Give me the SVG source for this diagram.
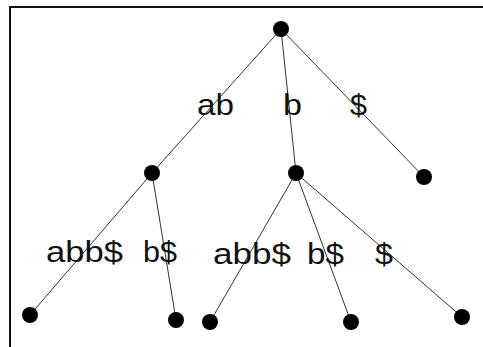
<svg xmlns="http://www.w3.org/2000/svg" width="483" height="347" viewBox="0 0 483 347">
<style>
.edge{stroke:#333;stroke-width:1;fill:none}
.node{fill:#000}
.lbl{font-family:"Liberation Sans",Arial,sans-serif;font-size:30px;fill:#111}
.frame{stroke:#111;stroke-width:2;fill:none}
</style>
<rect width="483" height="347" fill="#fff"/>
<path class="frame" d="M10,347 V7 H483"/>
<g id="connectors">
<line class="edge" x1="281" y1="29" x2="152" y2="173"/>
<line class="edge" x1="281" y1="29" x2="296" y2="173"/>
<line class="edge" x1="281" y1="29" x2="424" y2="177"/>
<line class="edge" x1="152" y1="173" x2="30" y2="315"/>
<line class="edge" x1="152" y1="173" x2="176" y2="320"/>
<line class="edge" x1="296" y1="173" x2="210" y2="322"/>
<line class="edge" x1="296" y1="173" x2="351" y2="322"/>
<line class="edge" x1="296" y1="173" x2="462" y2="317"/>
</g>
<g id="n-root"><circle class="node" cx="281" cy="29" r="8"/></g>
<g id="n-ab"><circle class="node" cx="152" cy="173" r="8"/></g>
<g id="n-b"><circle class="node" cx="296" cy="173" r="8"/></g>
<g id="n-dollar"><circle class="node" cx="424" cy="177" r="8"/></g>
<g id="n-ab-abb"><circle class="node" cx="30" cy="315" r="8"/></g>
<g id="n-ab-b"><circle class="node" cx="176" cy="320" r="8"/></g>
<g id="n-b-abb"><circle class="node" cx="210" cy="322" r="8"/></g>
<g id="n-b-b"><circle class="node" cx="351" cy="322" r="8"/></g>
<g id="n-b-dollar"><circle class="node" cx="462" cy="317" r="8"/></g>
<g id="labels">
<text class="lbl" x="197" y="115" textLength="37" lengthAdjust="spacingAndGlyphs">ab</text>
<text class="lbl" x="283" y="115" textLength="19" lengthAdjust="spacingAndGlyphs">b</text>
<text class="lbl" x="350" y="115" textLength="17" lengthAdjust="spacingAndGlyphs">$</text>
<text class="lbl" x="46" y="262" textLength="77" lengthAdjust="spacingAndGlyphs">abb$</text>
<text class="lbl" x="143" y="262" textLength="34" lengthAdjust="spacingAndGlyphs">b$</text>
<text class="lbl" x="213" y="264" textLength="78" lengthAdjust="spacingAndGlyphs">abb$</text>
<text class="lbl" x="307" y="264" textLength="37" lengthAdjust="spacingAndGlyphs">b$</text>
<text class="lbl" x="375" y="264" textLength="18" lengthAdjust="spacingAndGlyphs">$</text>
</g>
</svg>
